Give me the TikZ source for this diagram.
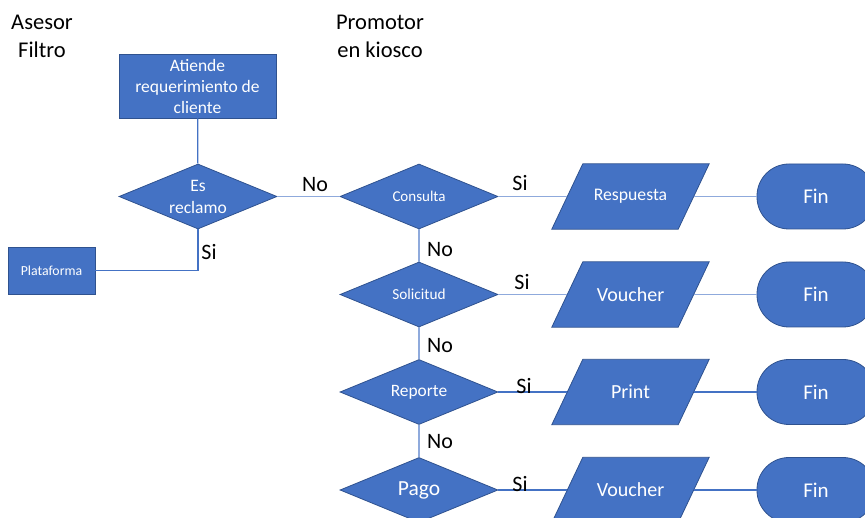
\documentclass[tikz,border=0pt]{standalone}
\usepackage{fontspec}
\setmainfont{Carlito}
\usetikzlibrary{shapes.geometric,backgrounds}
\definecolor{fillb}{HTML}{4472C4}
\definecolor{edgeb}{HTML}{2F528F}
\definecolor{lineb}{HTML}{4472C4}
\definecolor{linel}{HTML}{8FAADC}
\newcommand{\fsz}[1]{\fontsize{#1}{1.2\dimexpr #1pt\relax}\selectfont}
\newcommand{\paragram}[1]{\filldraw[parashape] ([xshift=-15.5pt]#1.south west) -- ([xshift=-15.5pt]#1.south east) -- ([xshift=15.5pt]#1.north east) -- ([xshift=15.5pt]#1.north west) -- cycle;}
\begin{document}
\begin{tikzpicture}[x=1pt,y=-1pt,
  shapebase/.style={fill=fillb,draw=edgeb,line width=0.8pt,text=white,inner sep=0pt,align=center},
  procbox/.style={shapebase,rectangle},
  decision/.style={shapebase,diamond,aspect=2.43,minimum width=158pt,minimum height=65pt},
  iobox/.style={rectangle,text=white,inner sep=0pt,align=center,minimum width=126pt,minimum height=65pt,font=\fsz{20}},
  parashape/.style={fill=fillb,draw=edgeb,line width=0.8pt},
  endbox/.style={shapebase,rectangle,rounded corners=32pt,minimum width=118pt,minimum height=65pt,font=\fsz{21}},
  branchtxt/.style={inner sep=0pt,font=\fsz{22}},
  titletxt/.style={inner sep=0pt,align=center,font=\fontsize{22.5}{28}\selectfont},
  conn/.style={draw=lineb,line width=1.2pt},
  connl/.style={draw=linel,line width=1.5pt}]
\useasboundingbox (0,0) rectangle (865,518);

\node[titletxt] (asesor) at (42,36) {Asesor\\Filtro};
\node[titletxt] (promotor) at (380,36) {Promotor\\en kiosco};

\node[procbox,minimum width=157pt,minimum height=64pt,font=\fontsize{17.5}{21}\selectfont] (atiende) at (197.5,86) {Atiende\\requerimiento de\\cliente};
\node[decision,font=\fontsize{17.5}{22}\selectfont] (esrec) at (198,196.5) {Es\\reclamo};
\node[procbox,minimum width=87pt,minimum height=47pt,font=\fsz{13.8}] (plat) at (51.5,270.5) {Plataforma};

\node[decision,font=\fsz{15}] (cons) at (419,196.5) {Consulta};
\node[iobox,font=\fsz{17.7}] (resp) at (630.5,196.5) {Respuesta};
\node[endbox] (fin1) at (816,196.5) {Fin};

\node[decision,font=\fsz{15.3}] (sol) at (419,294.5) {Solicitud};
\node[iobox] (vou1) at (630.5,294.5) {Voucher};
\node[endbox] (fin2) at (816,294.5) {Fin};

\node[decision,font=\fsz{17.4}] (rep) at (419,392) {Reporte};
\node[iobox] (print) at (630.5,392) {Print};
\node[endbox] (fin3) at (816,392) {Fin};

\node[decision,font=\fsz{21.5}] (pago) at (419,490) {Pago};
\node[iobox] (vou2) at (630.5,490) {Voucher};
\node[endbox] (fin4) at (816,490) {Fin};

\begin{scope}[on background layer]
  \paragram{resp}
  \paragram{vou1}
  \paragram{print}
  \paragram{vou2}
\end{scope}

\draw[conn] (atiende) -- (esrec);
\draw[conn] (esrec.south) |- (plat.east);
\draw[connl] (esrec) -- (cons);
\draw[connl] (cons) -- (resp);
\draw[connl] (resp) -- (fin1);
\draw[connl] (cons) -- (sol);
\draw[connl] (sol) -- (vou1);
\draw[connl] (vou1) -- (fin2);
\draw[connl] (sol) -- (rep);
\draw[conn] (rep) -- (print);
\draw[conn] (print) -- (fin3);
\draw[connl] (rep) -- (pago);
\draw[conn] (pago) -- (vou2);
\draw[conn] (vou2) -- (fin4);

\node[branchtxt] (si0) at (209,252) {Si};
\node[branchtxt] (no0) at (315,185) {No};
\node[branchtxt] (si1) at (520,183) {Si};
\node[branchtxt] (no1) at (440,250) {No};
\node[branchtxt] (si2) at (522,282) {Si};
\node[branchtxt] (no2) at (440,346) {No};
\node[branchtxt] (si3) at (524,386) {Si};
\node[branchtxt] (no3) at (440,442) {No};
\node[branchtxt] (si4) at (520,484) {Si};
\end{tikzpicture}
\end{document}
